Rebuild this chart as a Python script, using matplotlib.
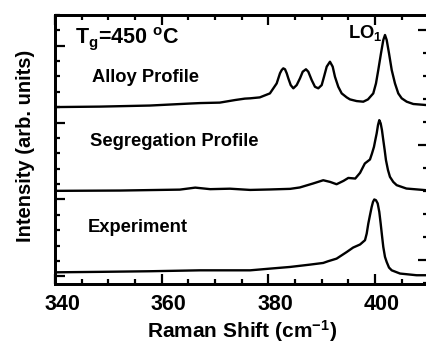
import matplotlib
matplotlib.use("Agg")
import matplotlib.pyplot as plt
from matplotlib.ticker import MultipleLocator, NullFormatter
from matplotlib.transforms import ScaledTranslation

plt.rcParams["font.family"] = ["Liberation Sans", "DejaVu Sans"]
plt.rcParams["font.weight"] = "bold"
plt.rcParams["mathtext.default"] = "regular"

# Raman spectra, offset vertically (arb. units)
alloy_x = [340.0, 348.4, 357.8, 365.3, 367.2, 370.9, 373.8, 375.6, 376.6, 378.4,
           380.3, 381.57, 382.19, 382.51, 382.81, 383.13, 383.45, 383.75, 384.20, 384.69,
           385.32, 385.94, 386.45, 387.06, 387.50, 388.13, 388.75, 389.37, 390.01, 390.44,
           390.95, 391.56, 392.07, 392.50, 393.12, 393.76, 394.70, 395.31, 396.57, 397.81,
           398.69, 399.68, 400.19, 400.62, 401.13, 401.56, 401.88, 402.20, 402.63, 403.14,
           403.75, 404.37, 405.01, 405.95, 407.19, 409.70, 410.5]
alloy_y = [11.01, 11.04, 11.11, 11.24, 11.27, 11.30, 11.47, 11.56, 11.58, 11.64,
           11.90, 12.55, 13.21, 13.42, 13.53, 13.47, 13.21, 12.88, 12.44, 12.23,
           12.44, 12.88, 13.31, 13.47, 13.31, 12.77, 12.33, 12.23, 12.44, 12.98,
           13.64, 13.96, 13.64, 12.98, 12.33, 11.90, 11.64, 11.51, 11.40, 11.36,
           11.51, 11.90, 12.55, 13.42, 14.51, 15.37, 15.70, 15.37, 14.51, 13.42,
           12.55, 11.90, 11.58, 11.36, 11.21, 11.14, 11.13]

segreg_x = [340.0, 352.2, 363.4, 366.3, 369.1, 372.8, 376.6, 380.3, 384.1, 385.9,
            388.4, 390.3, 391.6, 392.8, 394.1, 395.0, 396.3, 397.2, 398.1, 399.06,
            399.44, 399.81, 400.06, 400.32, 400.57, 400.81, 401.07, 401.31, 401.56, 401.82,
            402.06, 402.44, 402.81, 403.43, 404.07, 405.9, 409.7, 410.5]
segreg_y = [5.56, 5.58, 5.64, 5.77, 5.67, 5.70, 5.62, 5.65, 5.69, 5.78,
            6.04, 6.25, 6.14, 5.99, 6.21, 6.40, 6.36, 6.73, 7.34, 7.60,
            7.99, 8.42, 8.86, 9.30, 9.84, 10.16, 9.95, 9.51, 8.86, 8.21,
            7.56, 6.91, 6.47, 6.14, 5.93, 5.71, 5.60, 5.60]

exper_x = [340.0, 348.4, 357.8, 367.2, 376.6, 380.3, 384.1, 387.8, 390.3, 391.2,
           392.8, 394.7, 395.9, 397.2, 398.13, 398.45, 398.75, 399.06, 399.38, 399.63,
           399.87, 400.19, 400.51, 400.81, 401.07, 401.31, 401.56, 401.88, 402.20, 402.63,
           403.14, 404.7, 407.8, 409.7, 410.5]
exper_y = [0.26, 0.29, 0.33, 0.39, 0.39, 0.50, 0.61, 0.76, 0.87, 0.98,
           1.15, 1.58, 1.87, 2.07, 2.35, 2.78, 3.43, 3.97, 4.51, 4.84,
           5.00, 4.95, 4.74, 4.19, 3.43, 2.67, 1.91, 1.26, 0.93, 0.57,
           0.39, 0.18, 0.07, 0.07, 0.07]

x_ticks = [340, 360, 380, 400]

fig = plt.figure(figsize=(4.27, 3.45), dpi=100)
ax = fig.add_axes([55 / 427, 61 / 345, 373.3 / 427, 269 / 345])

for xs, ys in [(alloy_x, alloy_y), (segreg_x, segreg_y), (exper_x, exper_y)]:
    ax.plot(xs, ys, color="black", lw=1.7, solid_joinstyle="round")

ax.set_xlim(340, 410)
ax.set_ylim(-0.5, 17)
ax.set_xticks(x_ticks)
ax.xaxis.set_minor_locator(MultipleLocator(5))
ax.yaxis.set_major_locator(MultipleLocator(5))
ax.yaxis.set_minor_locator(MultipleLocator(1))
ax.yaxis.set_major_formatter(NullFormatter())
ax.tick_params(which="both", direction="in", top=True, right=False,
               width=1.6, labelsize=15.5, pad=7)
ax.tick_params(which="major", length=7)
ax.tick_params(which="minor", length=3.5)
for lab in ax.get_xticklabels():
    lab.set_fontweight("bold")
    lab.set_transform(lab.get_transform() + ScaledTranslation(0.07, 0, fig.dpi_scale_trans))

ax2 = ax.twinx()
ax2.set_ylim(-1.04, 10.65)
ax2.yaxis.set_major_locator(MultipleLocator(5))
ax2.yaxis.set_minor_locator(MultipleLocator(1))
ax2.yaxis.set_major_formatter(NullFormatter())
ax2.tick_params(which="both", direction="in", width=1.6)
ax2.tick_params(which="major", length=7)
ax2.tick_params(which="minor", length=3.5)

for a in (ax, ax2):
    for sp in a.spines.values():
        sp.set_linewidth(2.0)

ax.set_xlabel("Raman Shift (cm$^{-1}$)", fontsize=15, fontweight="bold", va="center")
ax.xaxis.set_label_coords(0.501, -0.175)
ax.set_ylabel("Intensity (arb. units)", fontsize=14.5, fontweight="bold", va="center")
ax.yaxis.set_label_coords(-0.080, 0.513)

ax.text(343.7, 15.5, "T$_\\mathregular{g}$=450 $^\\mathregular{o}$C", fontsize=15.5,
        fontweight="bold", va="center", ha="left")
ax.text(347.0, 12.95, "Alloy Profile", fontsize=13.2, fontweight="bold", va="center")
ax.text(346.6, 8.75, "Segregation Profile", fontsize=13.2, fontweight="bold", va="center")
ax.text(346.2, 3.2, "Experiment", fontsize=13.2, fontweight="bold", va="center")
ax.text(394.9, 15.85, "LO$_\\mathregular{1}$", fontsize=13.2, fontweight="bold", va="center")

fig.savefig("out.png", dpi=100)
